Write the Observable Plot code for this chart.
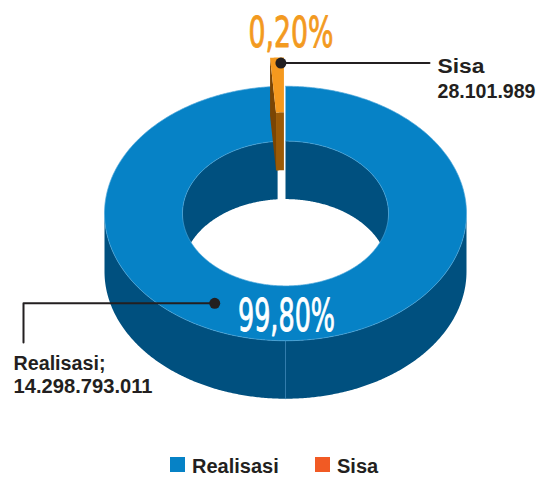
<!DOCTYPE html>
<html>
<head>
<meta charset="utf-8">
<script src="https://cdn.jsdelivr.net/npm/d3@7"></script>
<script src="https://cdn.jsdelivr.net/npm/@observablehq/plot@0.6"></script>
<style>
  html, body { margin: 0; padding: 0; background: #fff; }
  body { width: 543px; height: 477px; overflow: hidden; font-family: "Liberation Sans", Arial, sans-serif; }
  #legend { position: relative; width: 543px; height: 37px; }
  #legend .sw { position: absolute; top: 17px; width: 15px; height: 15px; }
  #legend .lb { position: absolute; top: 16px; font-size: 20px; line-height: 20px; font-weight: bold; color: #231f20; white-space: nowrap; }
</style>
</head>
<body>
<div id="chart"></div>
<div id="legend"></div>
<script>
// ---- data ----
const categories = ["Realisasi", "Sisa"];
const values = [14298793011, 28101989];
const percentLabels = ["99,80%", "0,20%"];
const valueLabels = ["14.298.793.011", "28.101.989"];
const legendColors = ["#0682c6", "#f15a24"];

// ---- layout / style ----
const W = 543, H = 440;
const cx = 285, cy = 213, R = 181, r0 = 103, k = 0.703, depth = 58, explode = 41;
const minSweep = 4.4; // minimum visible sweep (degrees) for a tiny slice
const topColors = ["#0682c6", "#f5991e"];
const wallColors = ["#00507f", "#9c5a06"];
const cutColors = ["#004670", "#7a4504"];
const ink = "#231f20";

const total = d3.sum(values);
const sisaSweep = Math.max(values[1] / total * 360, minSweep);
const slices = [
  {a0: 0, a1: 360 - sisaSweep},
  {a0: 360 - sisaSweep, a1: 360}
];
slices.forEach((s, i) => {
  const mid = (s.a0 + s.a1) / 2 * Math.PI / 180;
  const e = i === 1 ? explode : 0;
  s.ox = e * Math.sin(mid);
  s.oy = -e * Math.cos(mid) * k;
});

function P(a, rho, z, s) {
  const t = a * Math.PI / 180;
  return {x: cx + rho * Math.sin(t) + s.ox, y: cy - rho * Math.cos(t) * k + z + s.oy};
}
function arc(a0, a1, rho, z, s) {
  const n = Math.max(2, Math.ceil(Math.abs(a1 - a0) / 0.5));
  return d3.range(n + 1).map(j => P(a0 + (a1 - a0) * j / n, rho, z, s));
}
function band(a0, a1, rho, s) { // vertical wall on a cylinder
  return [...arc(a0, a1, rho, 0, s), ...arc(a1, a0, rho, depth, s)];
}
function clip(s, lo, hi) {
  const a = Math.max(s.a0, lo), b = Math.min(s.a1, hi);
  return a < b ? [a, b] : null;
}

const marks = [];
function poly(pts, fill, stroke = "none", sw = 0) {
  marks.push(Plot.line(pts, {x: "x", y: "y", fill, stroke, strokeWidth: sw, curve: "linear"}));
}

// Realisasi (index 0)
{
  const s = slices[0];
  const f = clip(s, 90, 270);
  if (f) poly(band(f[0], f[1], R, s), wallColors[0]);
  // seam on the front wall
  marks.push(Plot.line([P(180, R, 0, s), P(180, R, depth, s)], {x: "x", y: "y", stroke: "#3f88b8", strokeWidth: 0.8}));
  const b1 = clip(s, -90, 90), b2 = clip(s, 270, 450);
  if (b1) poly(band(b1[0], b1[1], r0, s), wallColors[0]);
  if (b2) poly(band(b2[0], b2[1], r0, s), wallColors[0]);
  poly([...arc(s.a0, s.a1, R, 0, s), ...arc(s.a1, s.a0, r0, 0, s)], topColors[0], "#4ea6da", 0.7);
}
// Sisa (index 1), exploded
{
  const s = slices[1];
  poly([P(s.a0, r0, 0, s), P(s.a0, R, 0, s), P(s.a0, R, depth, s), P(s.a0, r0, depth, s)], cutColors[1]);
  poly(band(s.a0, s.a1, r0, s), wallColors[1]);
  poly([...arc(s.a0, s.a1, R, 0, s), ...arc(s.a1, s.a0, r0, 0, s)], topColors[1]);
}

// leader dots from geometry
const sisaDot = P(359, R - 8, 0, slices[1]);
const realDot = P(209, 146, 0, slices[0]);
marks.push(Plot.line([sisaDot, {x: 429, y: sisaDot.y}], {x: "x", y: "y", stroke: ink, strokeWidth: 2}));
marks.push(Plot.line([realDot, {x: 23, y: realDot.y}, {x: 23, y: 342}], {x: "x", y: "y", stroke: ink, strokeWidth: 2}));
marks.push(Plot.dot([sisaDot, realDot], {x: "x", y: "y", r: 5.5, fill: ink, stroke: "none"}));

// percentage labels
const pctFont = "'Liberation Sans Narrow','DejaVu Sans Condensed',sans-serif";
marks.push(Plot.text([{x: 286, y: 330, t: percentLabels[0]}], {
  x: "x", y: "y", text: "t", fill: "#ffffff", stroke: "#ffffff", strokeWidth: 0.9, fontSize: 44, lineAnchor: "bottom", textAnchor: "middle",
  fontFamily: pctFont
}));
marks.push(Plot.text([{x: 290.5, y: 46, t: percentLabels[1]}], {
  x: "x", y: "y", text: "t", fill: "#f39a1f", stroke: "#f39a1f", strokeWidth: 0.9, fontSize: 42, lineAnchor: "bottom", textAnchor: "middle",
  fontFamily: pctFont
}));

// category/value labels
const lab = [
  {x: 437, y: 72, t: categories[1]},
  {x: 437, y: 97, t: valueLabels[1]},
  {x: 13, y: 369, t: categories[0] + ";"},
  {x: 13, y: 392, t: valueLabels[0]}
];
marks.push(Plot.text(lab, {
  x: "x", y: "y", text: "t", fill: ink, fontSize: 20, fontWeight: "bold", lineAnchor: "bottom", textAnchor: "start",
  fontFamily: "'Liberation Sans',Arial,sans-serif"
}));

const chart = Plot.plot({
  width: W, height: H, margin: 0,
  x: {type: "identity", axis: null},
  y: {type: "identity", axis: null},
  style: {background: "#fff", overflow: "visible"},
  marks
});
document.getElementById("chart").appendChild(chart);

const fitText = {"99,80%": 97, "0,20%": 85, "28.101.989": 98, "14.298.793.011": 139, "Sisa": 47, "Realisasi;": 92};
d3.select(chart).selectAll("text").each(function () {
  const w = fitText[this.textContent];
  if (w) d3.select(this).attr("textLength", w).attr("lengthAdjust", "spacingAndGlyphs");
});

// legend (HTML, below the SVG)
const legend = document.getElementById("legend");
const lx = [170, 315];
categories.forEach((c, i) => {
  const sw = document.createElement("div");
  sw.className = "sw"; sw.style.left = lx[i] + "px"; sw.style.background = legendColors[i];
  const lb = document.createElement("div");
  lb.className = "lb"; lb.style.left = (lx[i] + 22) + "px"; lb.textContent = c;
  legend.appendChild(sw); legend.appendChild(lb);
});
</script>
</body>
</html>
